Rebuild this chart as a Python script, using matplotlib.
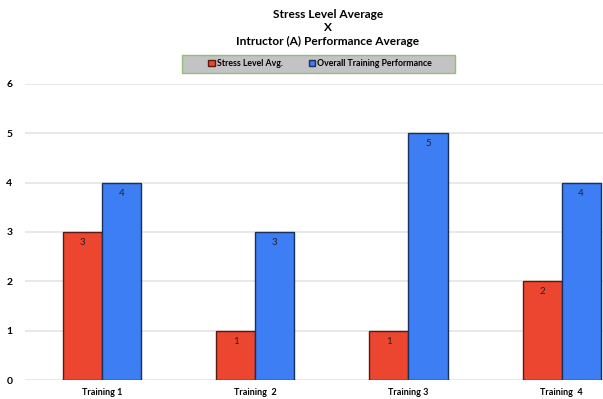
import matplotlib
matplotlib.use("Agg")
import matplotlib.pyplot as plt
from matplotlib.patches import Rectangle
import numpy as np

categories = ["Training 1", "Training  2", "Training 3", "Training  4"]
stress_avg = [3, 1, 1, 2]
performance_avg = [4, 3, 5, 4]
series_names = ["Stress Level Avg.", "Overall Training Performance"]

plt.rcParams['font.family'] = ['Lato', 'DejaVu Sans']

fig = plt.figure(figsize=(6.03, 3.99), dpi=100)
ax = fig.add_axes([0.0415, 0.0476, 0.9585, 0.7419])

x = np.arange(len(categories))
w = 0.255
red = "#EC4630"
blue = "#3E7EF4"
b1 = ax.bar(x - w / 2, stress_avg, w, color=red, edgecolor="#5a1a10", linewidth=1.0,
            label=series_names[0], zorder=3)
b2 = ax.bar(x + w / 2, performance_avg, w, color=blue, edgecolor="#1a2f5a", linewidth=1.0,
            label=series_names[1], zorder=3)

for bars, vals in ((b1, stress_avg), (b2, performance_avg)):
    for rect, v in zip(bars, vals):
        ax.text(rect.get_x() + rect.get_width() / 2, v - 0.12, str(v),
                ha="center", va="top", fontsize=7, color="#222222", zorder=4)

ax.set_xlim(-0.503, 3.27)
ax.set_ylim(0, 6)
ax.set_yticks(range(7))
ax.set_xticks(x)
ax.set_xticklabels(categories, fontsize=6.5, fontweight="bold")
for lbl in ax.get_yticklabels():
    lbl.set_fontsize(7.5)
    lbl.set_fontweight("bold")
ax.tick_params(length=0, pad=6)
ax.tick_params(axis="y", pad=9)
ax.yaxis.grid(True, color="#e4e4e4", linewidth=1.2, zorder=0)
for s in ax.spines.values():
    s.set_visible(False)

fig.text(0.544, 0.978, "Stress Level Average\nX\nIntructor (A) Performance Average",
         ha="center", va="top", fontsize=8.6, fontweight="bold", linespacing=1.3)

# grey legend box with green border
fig.patches.append(Rectangle((0.3018, 0.817), 0.4527, 0.0451, transform=fig.transFigure,
                             facecolor="#c3c3c3", edgecolor="#8fbf7a", linewidth=1.0))
leg = fig.legend(loc="center", bbox_to_anchor=(0.531, 0.8396), ncol=2, fontsize=6.3,
                 frameon=False, handlelength=0.7, handleheight=0.7,
                 handletextpad=0.25, columnspacing=3.0, borderpad=0, borderaxespad=0)
for t in leg.get_texts():
    t.set_fontweight("bold")

fig.savefig("out.png", dpi=100)
